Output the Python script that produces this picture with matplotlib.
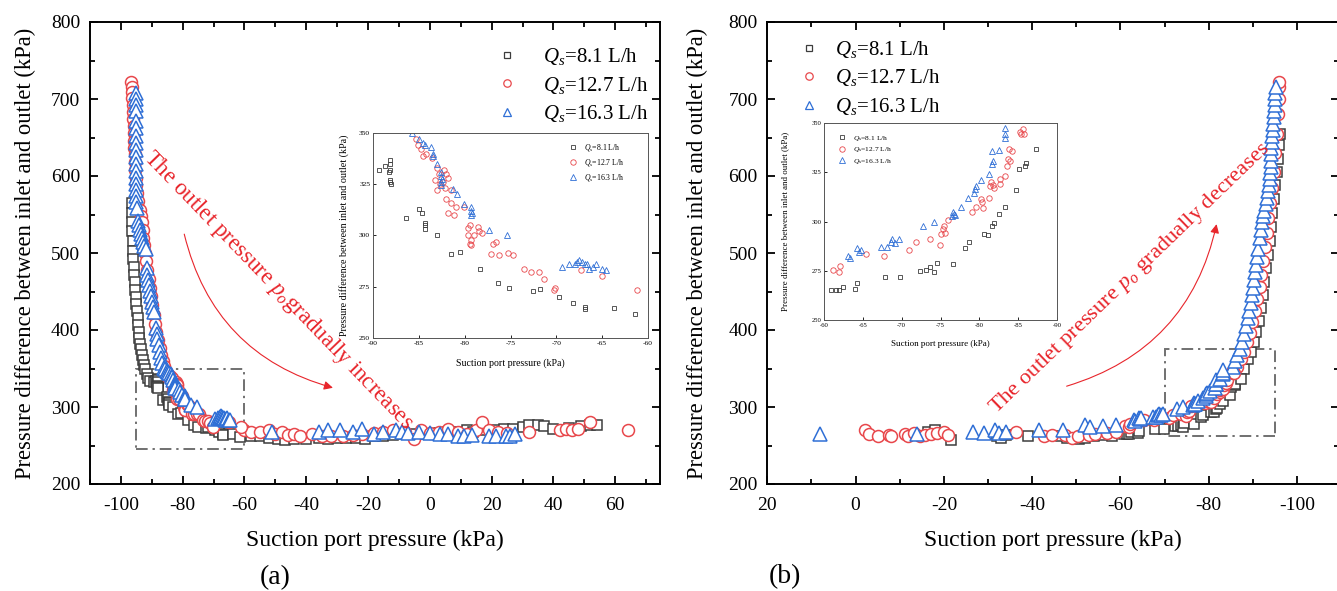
import matplotlib
matplotlib.use("Agg")
import numpy as np
import matplotlib.pyplot as plt
from matplotlib.patches import Rectangle, FancyArrowPatch
from matplotlib.ticker import MultipleLocator

plt.rcParams.update({
    "font.family": ["Liberation Serif", "DejaVu Serif"],
    "mathtext.fontset": "custom",
    "mathtext.rm": "Liberation Serif",
    "mathtext.it": "Liberation Serif:italic",
    "mathtext.bf": "Liberation Serif:bold",
    "axes.unicode_minus": False,
})

# ---------------------------------------------------------------- data
series_labels = [r"$Q_s$=8.1 L/h", r"$Q_s$=12.7 L/h", r"$Q_s$=16.3 L/h"]

# (a) suction pressure rising: steep branch + plateau, and the zoomed window
a_sq_x = [-96.5, -96.4, -96.3, -96.3, -96.2, -96.0, -96.0, -95.8, -95.6, -95.5, -95.3, -95.2, -95.0, -94.8,
          -94.6, -94.4, -94.2, -94.0, -93.7, -93.4, -93.1, -92.8, -92.5, -92.1, -91.7, -91.2, -90.6,
          -58, -55, -52, -49, -47, -44, -40, -36, -33, -30, -27, -24, -21, -18, -15, -12, -9, -6, -3, 0,
          3, 6, 9, 12, 14, 18, 21, 24, 27, 30, 32, 35, 37, 40, 45, 49, 52, 54]
a_sq_y = [565, 552, 540, 528, 515, 503, 492, 482, 472, 462, 452, 443, 434, 425,
          416, 407, 398, 390, 382, 375, 368, 361, 355, 349, 343, 338, 334,
          262, 262, 260, 258, 257, 258, 258, 260, 258, 260, 260, 260, 258, 262, 262, 263, 265, 265, 265, 265,
          266, 267, 268, 270, 268, 270, 270, 271, 272, 274, 276, 277, 275, 272, 273, 275, 277, 276]
a_sq_zx = [-89.3, -88.7, -88.3, -88.1, -88.1, -88.1, -88.1, -88.2, -88.0, -86.4, -85.0, -84.7, -84.3, -84.3,
           -84.3, -83.0, -81.5, -80.5, -78.3, -76.4, -75.2, -72.5, -71.8, -69.7, -68.2, -66.9, -66.9, -63.7, -61.4]
a_sq_zy = [332, 334, 331, 337, 335, 332, 327, 326, 325, 308.5, 313, 311, 306, 305,
           303, 300, 291, 292, 283.5, 277, 274.6, 273, 274, 270, 267, 265, 264, 264.5, 261.5]

a_ci_x = [-96.6, -96.5, -96.4, -96.3, -96.2, -96.1, -96.0, -95.9, -95.8, -95.7, -95.6, -95.5, -95.4, -95.3,
          -95.2, -95.0, -94.8, -94.4, -93.8, -93.5, -93.2, -93.0, -92.7, -92.4, -92.1, -91.8, -91.4, -91.0,
          -90.6, -90.2, -89.8, -89.4, -89.0, -88.5, -88.0, -87.5, -87.0, -86.5, -86.0,
          -60, -58, -55, -52, -50, -48, -46, -44, -42, -38, -35, -32, -28, -25, -22, -18, -15, -12, -8, -5,
          -3, 0, 3, 6, 9, 12, 15, 17, 19, 22, 25, 32, 42, 44, 46, 48, 52, 64]
a_ci_y = [722, 716, 709, 701, 692, 683, 674, 665, 656, 646, 637, 628, 618, 608,
          598, 588, 578, 568, 556, 548, 540, 530, 520, 510, 500, 490, 478, 466,
          455, 444, 432, 420, 408, 397, 387, 377, 368, 360, 353,
          270, 268, 268, 270, 265, 268, 263, 265, 262, 265, 262, 262, 262, 264, 265, 266, 268, 270, 268, 258,
          270, 266, 268, 272, 268, 265, 270, 281, 270, 268, 266, 268, 270, 272, 270, 271, 280, 270]
a_ci_zx = [-85.3, -85.1, -84.8, -84.6, -84.2, -83.6, -83.0, -82.8, -83.2, -82.7, -83.0, -82.3, -82.0, -81.8,
           -82.4, -82.1, -81.5, -82.0, -81.5, -81.0, -81.8, -81.2, -80.1, -79.6, -79.4, -79.6, -79.3, -79.0,
           -79.4, -79.3, -78.4, -78.6, -78.1, -76.9, -76.6, -77.1, -76.3, -75.3, -74.7, -73.5, -72.8, -71.9,
           -71.3, -70.2, -70.1, -67.3, -65.0, -61.2]
a_ci_zy = [347, 344, 342, 339, 340, 338, 333, 330, 327, 325, 322, 332, 330, 328,
           326, 323, 322, 318, 316, 314, 311, 310, 314, 303.5, 305, 300, 298, 300,
           296, 295.5, 302, 304, 301, 296, 297, 291, 290.6, 291.5, 290.6, 283.5, 282, 282,
           279, 273.5, 274.5, 283, 280, 273.5]

a_tr_x = [-95.2, -95.1, -95.0, -95.1, -95.2, -95.0, -95.1, -95.0, -95.2, -95.1, -95.0, -95.1, -95.0, -95.2,
          -95.0, -95.1, -95.0, -94.9, -94.4, -94.1, -93.8, -93.5, -93.2, -92.8, -92.4, -92.0,
          -91.7, -91.4, -91.1, -90.8, -90.5, -90.2, -89.9, -89.6, -89.3, -88.6, -88.4, -88.2,
          -87.8, -87.4, -87.0, -86.6, -86.2,
          -51, -35.9, -33, -29, -24.8, -22, -18, -15, -11, -9, -7, -3.5, 0, 3.4, 6, 9, 11, 13.8, 19.3,
          21.4, 24.8, 26, 27.6]
a_tr_y = [708, 700, 692, 684, 672, 662, 652, 643, 634, 625, 616, 607, 598, 590,
          582, 574, 566, 558, 542, 536, 530, 525, 520, 514, 509, 505,
          480, 472, 465, 458, 451, 444, 437, 430, 423, 402, 395, 388,
          380, 372, 364, 357, 351,
          267, 268, 270, 270, 268, 272, 265, 268, 270, 268, 266, 268, 266, 265, 265, 262, 262, 263, 262,
          262, 262, 262, 265]
a_tr_zx = [-85.8, -85.0, -84.6, -84.3, -83.7, -83.5, -83.4, -83.0, -82.6, -82.6, -82.5, -82.6, -82.6, -81.3,
           -80.8, -80.1, -79.3, -79.3, -79.2, -79.3, -77.3, -75.4, -69.4, -68.6, -68.0, -67.8, -67.5, -67.2,
           -66.9, -66.7, -66.4, -66.0, -65.7, -65.0, -64.6]
a_tr_zy = [350, 347, 345, 344, 343, 340, 339, 335, 331, 329, 327.6, 326, 324.5, 322.8,
           320, 315.6, 314, 312, 311, 310, 302.6, 300.4, 284.4, 286, 286, 287, 288, 287,
           286, 286, 283.5, 284.7, 286, 283.5, 283]

# (b) suction pressure falling: plateau + steep branch, and the zoomed window
b_sq_x = [-16.5, -18, -21.5, -32, -33, -34, -39, -46.5, -48, -50.5, -52, -54, -56, -58,
          -88.0, -88.8, -89.5, -90.2, -90.8, -91.3, -91.8, -92.2, -92.6, -93.0, -93.4, -93.8, -94.1, -94.4,
          -94.8, -95.1, -95.4, -95.7, -96.0, -96.1]
b_sq_y = [268, 270, 257, 262, 260, 264, 262, 262, 260, 258, 260, 262, 263, 262,
          350, 362, 372, 384, 398, 412, 428, 445, 462, 480, 498, 516, 534, 552,
          570, 588, 605, 622, 640, 655]
b_sq_zx = [-60.9, -61.5, -61.9, -62.4, -64.0, -64.3, -67.8, -69.8, -72.3, -73.1, -73.7, -74.1, -74.5, -76.6,
           -78.2, -78.7, -80.6, -81.1, -81.6, -81.9, -82.5, -83.3, -84.7, -85.1, -85.9, -86.0, -87.3]
b_sq_zy = [265, 265.3, 265, 267, 265.6, 268.6, 271.7, 271.7, 275, 275.3, 277, 274.6, 279, 278.3,
           286.4, 289.5, 293.7, 293, 297.8, 299, 303.7, 307.3, 316, 326.6, 328, 329.7, 336.8]

b_ci_x = [-2.2, -3.1, -5, -7.5, -8, -11.3, -11.8, -13.3, -14.7, -15.7, -17, -18.5, -20, -21,
          -36.4, -42.7, -44.6, -47.5, -49, -50.4, -52.8, -54.2, -57, -59,
          -86.5, -87.3, -88.0, -88.7, -89.3, -89.9, -90.5, -91.0, -91.5, -91.9, -92.3, -92.7, -93.1, -93.5,
          -93.9, -94.3, -94.7, -95.1, -95.4, -95.6, -95.8, -96.0, -96.0]
b_ci_y = [270, 265, 262, 264, 262, 265, 262, 266, 262, 263, 265, 266, 268, 263,
          268, 262, 264, 263, 260, 262, 264, 265, 266, 268,
          352, 362, 372, 384, 396, 410, 425, 440, 456, 472, 490, 508, 526, 545,
          565, 585, 605, 630, 655, 680, 700, 715, 722]
b_ci_zx = [-61.1, -61.9, -62.1, -65.4, -67.7, -70.9, -71.9, -73.7, -74.9, -75.0, -75.3, -75.4, -75.6, -76.0,
           -79.1, -79.6, -80.2, -80.4, -80.5, -81.2, -81.4, -81.5, -81.7, -81.9, -82.6, -82.6, -83.3, -83.5,
           -83.7, -84.0, -83.8, -84.2, -85.2, -85.4, -85.6, -85.8]
b_ci_zy = [275.4, 274.6, 277.6, 283.6, 282.5, 285.4, 289.5, 291.2, 288.1, 293.7, 296, 297.5, 294.4, 300.8,
           304.6, 307.3, 311.4, 309.7, 306.8, 311.9, 318, 319.8, 318.3, 316.8, 319.2, 321.5, 322.9, 328,
           331.9, 330.8, 337, 335.6, 345.3, 344.2, 346.9, 344.4]

b_tr_x = [8, -14, -26.5, -29, -31.5, -32.5, -34, -41.5, -47, -52, -53, -56, -59,
          -85.5, -86.0, -86.5, -87.0, -87.5, -88.0, -88.4, -88.8, -89.2, -89.5, -89.8, -90.0, -90.2, -90.5,
          -90.8, -91.0, -91.2, -91.5, -91.8, -92.0, -92.3, -92.6, -93.0, -93.2, -93.4, -93.6, -93.8, -93.8,
          -94.0, -94.0, -94.2, -94.2, -94.4, -94.4, -94.6, -94.6, -94.8, -94.8, -95.0, -95.0, -95.0, -95.2]
b_tr_y = [265, 265, 268, 266, 270, 266, 268, 270, 270, 276, 274, 275, 276,
          352, 360, 368, 375, 385, 395, 405, 415, 425, 435, 445, 455, 465, 475,
          485, 495, 505, 520, 530, 540, 548, 555, 564, 572, 580, 588, 596, 604,
          612, 620, 628, 636, 644, 652, 660, 668, 676, 684, 692, 700, 708, 715]
b_tr_zx = [-63.1, -63.3, -64.3, -64.5, -64.7, -67.4, -68.1, -68.6, -68.8, -69.1, -69.6, -72.8, -74.2, -76.5,
           -76.6, -76.8, -76.9, -77.6, -78.6, -79.3, -79.4, -79.6, -80.2, -81.3, -81.6, -81.7, -81.6, -82.5,
           -83.3, -83.3, -83.3]
b_tr_zy = [282.7, 281.4, 286.3, 284.6, 285.6, 287.3, 287.3, 289.8, 291, 289.3, 291, 297.5, 300, 302.9,
           304.6, 303.9, 303.4, 307.6, 311.9, 314.4, 316.4, 317.8, 321.2, 324.1, 329.3, 330.5, 335.6, 336.4,
           342.4, 344.4, 347.5]

# ---------------------------------------------------------------- styling
RED = "#e8252b"
markers = ["s", "o", "^"]
colors = ["#3d3d3d", "#e8474b", "#2f6fd6"]
ms_main = [7.6, 8.6, 9.4]
ms_inset = [3.4, 3.9, 4.0]

W, H = 1337, 591
fig = plt.figure(figsize=(W / 100, H / 100), dpi=100)


def px_axes(x0, y0, x1, y1):
    return fig.add_axes([x0 / W, 1 - y1 / H, (x1 - x0) / W, (y1 - y0) / H])


ax_a = px_axes(90, 22, 660, 484)
ax_b = px_axes(767.3, 22, 1339, 484)
in_a = px_axes(373, 133, 648, 338)
in_b = px_axes(824, 123, 1057, 320)

panels = [
    (ax_a, in_a, [(a_sq_x, a_sq_y, a_sq_zx, a_sq_zy),
                  (a_ci_x, a_ci_y, a_ci_zx, a_ci_zy),
                  (a_tr_x, a_tr_y, a_tr_zx, a_tr_zy)]),
    (ax_b, in_b, [(b_sq_x, b_sq_y, b_sq_zx, b_sq_zy),
                  (b_ci_x, b_ci_y, b_ci_zx, b_ci_zy),
                  (b_tr_x, b_tr_y, b_tr_zx, b_tr_zy)]),
]

for ax, ins, series in panels:
    for k, (mx, my, zx, zy) in enumerate(series):
        ax.plot(list(mx) + list(zx), list(my) + list(zy), ls="none", marker=markers[k],
                ms=ms_main[k], mfc="white", mec=colors[k], mew=1.1, label=series_labels[k])
        ins.plot(zx, zy, ls="none", marker=markers[k], ms=ms_inset[k], mfc="none",
                 mec=colors[k], mew=0.6, label=series_labels[k])

# main axes
for ax in (ax_a, ax_b):
    ax.set_ylim(200, 800)
    ax.yaxis.set_major_locator(MultipleLocator(100))
    ax.yaxis.set_minor_locator(MultipleLocator(50))
    ax.xaxis.set_major_locator(MultipleLocator(20))
    ax.xaxis.set_minor_locator(MultipleLocator(10))
    ax.tick_params(which="both", direction="in", top=True, right=True, width=1.3,
                   labelsize=14, pad=7)
    ax.tick_params(axis="x", which="both", pad=9)
    ax.tick_params(which="major", length=6)
    ax.tick_params(which="minor", length=3.5)
    for s in ax.spines.values():
        s.set_linewidth(1.4)
    ax.set_xlabel("Suction port pressure (kPa)", fontsize=17)
    ax.set_ylabel("Pressure difference between inlet and outlet (kPa)", fontsize=16.3)
    ax.xaxis.set_label_coords(0.5, -0.1)

ax_a.set_xlim(-110, 74.5)
ax_b.set_xlim(20, -109.5)
ax_a.yaxis.set_label_coords(-0.094, 0.5)
ax_b.yaxis.set_label_coords(-0.103, 0.5)

legend_kw = dict(frameon=False, fontsize=15, markerscale=0.62, handlelength=1.0,
                 borderpad=0, borderaxespad=0, labelspacing=0.36, bbox_transform=fig.transFigure)
leg_a = ax_a.legend(loc="upper left", bbox_to_anchor=(497 / W, 1 - 46 / H), handletextpad=1.2, **legend_kw)
leg_b = ax_b.legend(loc="upper left", bbox_to_anchor=(799 / W, 1 - 39 / H), handletextpad=0.72, **legend_kw)
for leg in (leg_a, leg_b):
    for h in leg.legend_handles:
        h.set_markeredgewidth(0.9)

# zoom windows on the main axes
ax_a.add_patch(Rectangle((-95, 245), 35, 105, fill=False, ec="#707070", lw=1.4,
                         ls=(0, (6, 2.5, 1.2, 2.5)), zorder=1))
ax_b.add_patch(Rectangle((-95, 262), 25, 113, fill=False, ec="#707070", lw=1.4,
                         ls=(0, (6, 2.5, 1.2, 2.5)), zorder=1))

# trend annotations
ax_a.text(-48.9, 451, r"The outlet pressure $p_o$gradually increases", rotation=-46,
          rotation_mode="anchor", ha="center", va="center", color=RED, fontsize=16.5)
ax_b.text(-62.2, 467, r"The outlet pressure $p_o$ gradually decreases", rotation=44,
          rotation_mode="anchor", ha="center", va="center", color=RED, fontsize=16.2)
ax_a.add_patch(FancyArrowPatch((-79.7, 528), (-30.5, 324), connectionstyle="arc3,rad=0.3",
                               arrowstyle="-|>", mutation_scale=13, color=RED, lw=0.8))
ax_b.add_patch(FancyArrowPatch((-47.2, 326), (-81.9, 541), connectionstyle="arc3,rad=0.3",
                               arrowstyle="-|>", mutation_scale=13, color=RED, lw=0.8))

# insets
for ins in (in_a, in_b):
    ins.set_ylim(250, 350)
    ins.xaxis.set_major_locator(MultipleLocator(5))
    ins.yaxis.set_major_locator(MultipleLocator(25))
    ins.tick_params(direction="in", length=2.5, width=0.6, pad=2)
    for s in ins.spines.values():
        s.set_linewidth(0.7)
        s.set_color("#555555")

in_a.set_xlim(-90, -60)
in_b.set_xlim(-60, -90)
in_a.tick_params(labelsize=5.4)
in_b.tick_params(labelsize=4.8)
in_a.set_xlabel("Suction port pressure (kPa)", fontsize=7.1)
in_a.set_ylabel("Pressure difference between inlet and outlet (kPa)", fontsize=7.2)
in_b.set_xlabel("Suction port pressure (kPa)", fontsize=6.5)
in_b.set_ylabel("Pressure difference between inlet and outlet (kPa)", fontsize=6.4)
in_a.xaxis.set_label_coords(0.5, -0.1)
in_b.xaxis.set_label_coords(0.5, -0.103)
in_a.yaxis.set_label_coords(-0.088, 0.5)
in_b.yaxis.set_label_coords(-0.15, 0.5)

in_a.legend(loc="upper left", bbox_to_anchor=(0.712, 0.955), frameon=False, fontsize=5.6,
            handlelength=1.2, handletextpad=0.8, borderpad=0, borderaxespad=0, labelspacing=0.5)
in_b.legend(loc="upper left", bbox_to_anchor=(0.06, 0.945), frameon=False, fontsize=5.4,
            handlelength=1.2, handletextpad=0.8, borderpad=0, borderaxespad=0, labelspacing=0.35)

fig.text(275 / W, 1 - 578 / H, "(a)", ha="center", va="center", fontsize=20)
fig.text(785 / W, 1 - 577 / H, "(b)", ha="center", va="center", fontsize=20)

fig.savefig("out.png", dpi=100)
